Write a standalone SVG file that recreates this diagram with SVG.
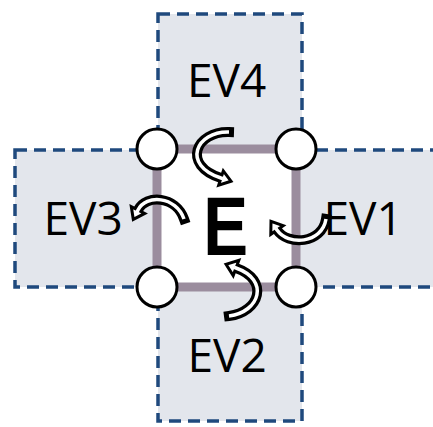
<svg xmlns="http://www.w3.org/2000/svg" width="433" height="427" viewBox="0 0 433 427">
  <style>
    .box { fill: #e3e6ec; stroke: #1f497d; stroke-width: 3.5; stroke-dasharray: 12 7; }
    .lbl { font-family: "Open Sans", "Liberation Sans", sans-serif; font-size: 46px; fill: #000; }
    .sq { fill: none; stroke: #9b8d9e; stroke-width: 9; }
    .node { fill: #fff; stroke: #000; stroke-width: 3; }
    .shaft-o { fill: none; stroke: #000; stroke-width: 10; stroke-linecap: square; }
    .shaft-i { fill: none; stroke: #fff; stroke-width: 3.5; stroke-linecap: butt; }
    .head { fill: #fff; stroke: #000; stroke-width: 3; stroke-linejoin: miter; }
  </style>
  <rect width="433" height="427" fill="#fff"/>
  <g id="ev4"><rect class="box" x="158" y="14" width="144" height="136"/><text class="lbl" x="187" y="97">EV4</text></g>
  <g id="ev3"><rect class="box" x="15" y="150" width="143" height="137"/><text class="lbl" x="43.5" y="235">EV3</text></g>
  <g id="ev1"><rect class="box" x="297" y="150" width="150" height="137"/><text class="lbl" x="323.5" y="235">EV1</text></g>
  <g id="ev2"><rect class="box" x="158" y="287" width="144" height="134"/><text class="lbl" x="187.5" y="372">EV2</text></g>
  <g id="element">
    <rect class="sq" x="157" y="149" width="139" height="138"/>
    <text transform="translate(208,255) scale(0.8,1)" x="-6" y="0" font-family="Liberation Sans, Arial, sans-serif" font-weight="bold" font-size="84">E</text>
  </g>
  <g id="n1"><circle class="node" cx="157" cy="149" r="20"/></g>
  <g id="n2"><circle class="node" cx="296" cy="149" r="20"/></g>
  <g id="n3"><circle class="node" cx="157" cy="287" r="20"/></g>
  <g id="n4"><circle class="node" cx="296" cy="287" r="20"/></g>
  <g id="connectors">
    <path class="shaft-o" d="M229,132 C196,131 181,165 221,178"/>
    <polygon class="head" points="231,181.2 218.7,185.1 223.3,170.9"/>
    <path class="shaft-i" d="M229,132 C196,131 181,165 221,178 L223,178.6"/>
    <path class="shaft-o" d="M184,219 C176,196 146,194 138,210"/>
    <polygon class="head" points="133.3,219.4 131.3,206.6 144.7,213.4"/>
    <path class="shaft-i" d="M184,219 C176,196 146,194 138,210 L137,212"/>
    <path class="shaft-o" d="M326,219 C322,244 288,246 277,230"/>
    <polygon class="head" points="271,221.3 270.8,234.3 283.2,225.7"/>
    <path class="shaft-i" d="M326,219 C322,244 288,246 277,230 L275.9,228.4"/>
    <path class="shaft-o" d="M229,316 C260,312 270,280 236,268"/>
    <polygon class="head" points="226,264.3 233.2,275.6 238.8,260.4"/>
    <path class="shaft-i" d="M229,316 C260,312 270,280 236,268 L234.1,267.3"/>
  </g>
</svg>
